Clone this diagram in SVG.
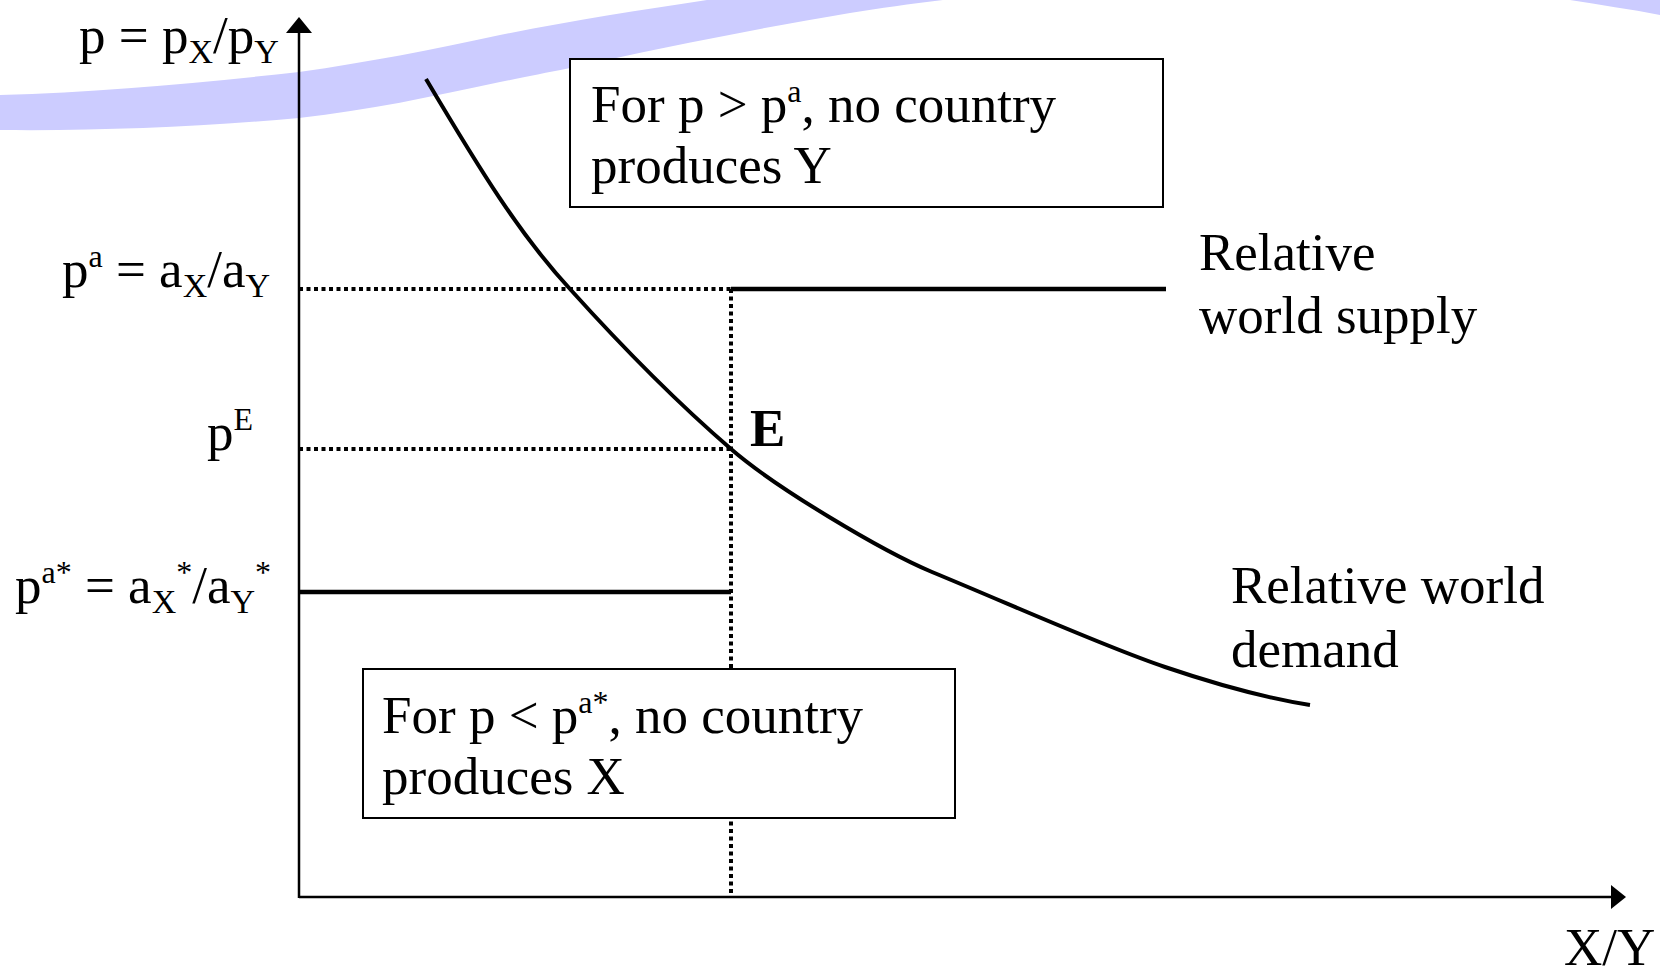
<svg xmlns="http://www.w3.org/2000/svg" width="1660" height="977" viewBox="0 0 1660 977">
  <style>
    text { font-family: "Liberation Serif", "Times New Roman", serif; fill: #000; }
    .lbl { font-size: 53px; }
    .sub { font-size: 34px; }
    .sup { font-size: 32px; }
    .box { fill: #fff; stroke: #000; stroke-width: 2; }
    .axis { stroke: #000; stroke-width: 2.5; fill: none; }
    .dot { stroke: #000; stroke-width: 4; stroke-dasharray: 4 3.5; fill: none; }
    .thick { stroke: #000; stroke-width: 4.5; fill: none; }
    .curve { stroke: #000; stroke-width: 4; fill: none; }
    .band { fill: #CCCCFF; }
  </style>
  <rect width="1660" height="977" fill="#fff"/>
  <g id="decoration">
    <path class="band" d="M0,95 C100,92 200,83 299,72 C370,62 430,50 500,35 C570,21 640,10 707,0 L943,0 C910,4 880,8 850,13 C760,28 660,48 570,68 C545,73 520,78 500,82 C430,97 370,110 299,118 C200,127 100,131 0,130 Z"/>
    <path class="band" d="M1570,0 L1660,0 L1660,15 C1630,9 1600,5 1570,0 Z"/>
  </g>
  <g id="connectors">
    <line class="axis" x1="299" y1="898" x2="299" y2="30"/>
    <polygon points="299,17 286,33 312,33" fill="#000"/>
    <line class="axis" x1="299" y1="897" x2="1613" y2="897"/>
    <polygon points="1626,897 1611,885 1611,909" fill="#000"/>
    <line class="dot" x1="299" y1="289" x2="731" y2="289"/>
    <line class="dot" x1="299" y1="449" x2="731" y2="449"/>
    <line class="dot" x1="731" y1="289" x2="731" y2="898"/>
    <line class="thick" x1="731" y1="289" x2="1166" y2="289"/>
    <line class="thick" x1="299" y1="592" x2="731" y2="592"/>
    <path class="curve" d="M426,79 C480,170 520,235 570,289 C625,350 680,405 731,449 C776,488 882,551 932,572 C1012,605 1105,647 1165,667 C1215,684 1260,697 1310,705"/>
  </g>
  <g id="axis-labels">
    <text class="lbl" x="79" y="53">p = p<tspan class="sub" dy="10">X</tspan><tspan dy="-10">/p</tspan><tspan class="sub" dy="10">Y</tspan></text>
    <text class="lbl" x="62" y="287">p<tspan class="sup" dy="-20">a</tspan><tspan dy="20"> = a</tspan><tspan class="sub" dy="10">X</tspan><tspan dy="-10">/a</tspan><tspan class="sub" dy="10">Y</tspan></text>
    <text class="lbl" x="207" y="450">p<tspan class="sup" dy="-20">E</tspan></text>
    <text class="lbl" x="15" y="603">p<tspan class="sup" dy="-20">a*</tspan><tspan dy="20"> = a</tspan><tspan class="sub" dy="10">X</tspan><tspan class="sup" dy="-30">*</tspan><tspan dy="20">/a</tspan><tspan class="sub" dy="10">Y</tspan><tspan class="sup" dy="-30">*</tspan></text>
    <text class="lbl" x="1564" y="965">X/Y</text>
  </g>
  <g id="E-label">
    <text class="lbl" x="750" y="446" font-weight="bold" font-size="50">E</text>
  </g>
  <g id="upper-box">
    <rect class="box" x="570" y="59" width="593" height="148"/>
    <text class="lbl" x="591" y="122">For p &gt; p<tspan class="sup" dy="-20">a</tspan><tspan dy="20">, no country</tspan></text>
    <text class="lbl" x="591" y="183">produces Y</text>
  </g>
  <g id="lower-box">
    <rect class="box" x="363" y="669" width="592" height="149"/>
    <text class="lbl" x="382" y="733">For p &lt; p<tspan class="sup" dy="-20">a*</tspan><tspan dy="20">, no country</tspan></text>
    <text class="lbl" x="382" y="794">produces X</text>
  </g>
  <g id="supply-label">
    <text class="lbl" x="1199" y="270">Relative</text>
    <text class="lbl" x="1199" y="333">world supply</text>
  </g>
  <g id="demand-label">
    <text class="lbl" x="1231" y="603">Relative world</text>
    <text class="lbl" x="1231" y="667">demand</text>
  </g>
</svg>
